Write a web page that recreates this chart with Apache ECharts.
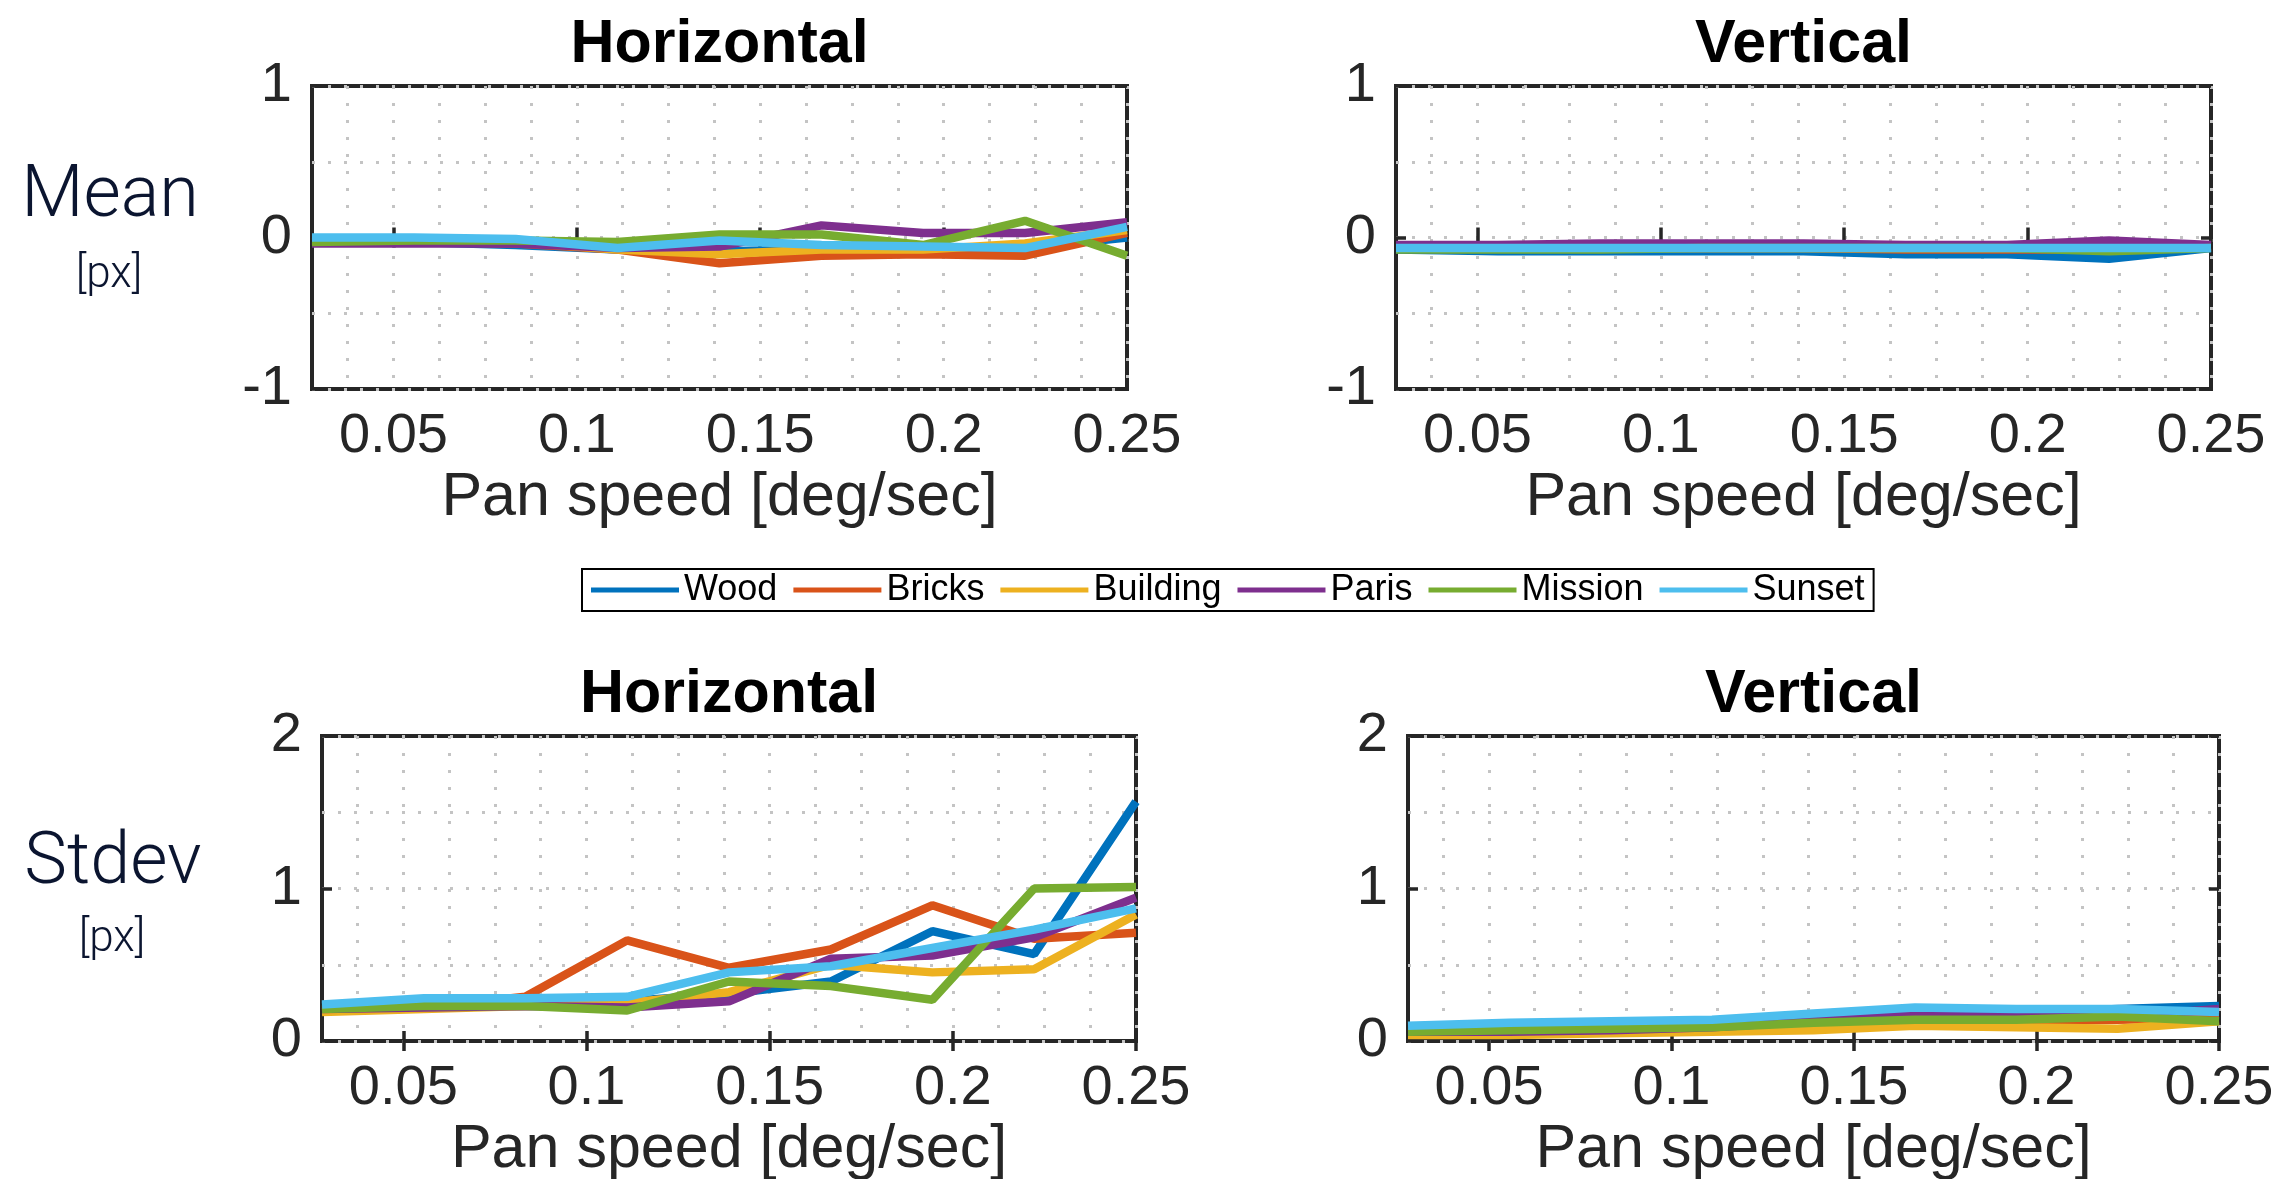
<!DOCTYPE html>
<html>
<head>
<meta charset="utf-8">
<title>Pan speed error</title>
<script src="https://cdn.jsdelivr.net/npm/echarts@6.0.0/dist/echarts.min.js"></script>
<style>
html, body { margin: 0; padding: 0; background: #fff; }
#chart { width: 2294px; height: 1179px; }
</style>
</head>
<body>
<div id="chart"></div>
<script>
// pan speeds [deg/sec] at which every scene was measured
var speeds = [0.0278, 0.0556, 0.0833, 0.1111, 0.1389, 0.1667, 0.1944, 0.2222, 0.25];
var names = ['Wood', 'Bricks', 'Building', 'Paris', 'Mission', 'Sunset'];
var colors = ['#0072BD', '#D95319', '#EDB120', '#7E2F8E', '#77AC30', '#4DBEEE'];

// one row per scene, same order as names
var meanHorizontal = [
    [-0.02, -0.03, -0.05, -0.08, -0.09, -0.08, -0.08, -0.07, 0.00],
    [-0.02, -0.03, -0.04, -0.08, -0.17, -0.12, -0.11, -0.12, 0.03],
    [-0.02, -0.02, -0.03, -0.08, -0.11, -0.08, -0.08, -0.04, 0.05],
    [-0.04, -0.04, -0.04, -0.07, -0.06, 0.08, 0.03, 0.03, 0.10],
    [-0.03, -0.02, -0.02, -0.03, 0.02, 0.02, -0.05, 0.11, -0.12],
    [0.00, 0.00, -0.01, -0.07, -0.02, -0.05, -0.06, -0.07, 0.07]
];
var meanVertical = [
    [-0.08, -0.09, -0.09, -0.09, -0.09, -0.11, -0.11, -0.14, -0.07],
    [-0.07, -0.07, -0.07, -0.07, -0.07, -0.08, -0.08, -0.08, -0.06],
    [-0.07, -0.07, -0.07, -0.07, -0.07, -0.07, -0.07, -0.07, -0.06],
    [-0.05, -0.05, -0.04, -0.04, -0.04, -0.05, -0.05, -0.02, -0.05],
    [-0.08, -0.08, -0.08, -0.07, -0.07, -0.07, -0.07, -0.09, -0.07],
    [-0.07, -0.07, -0.07, -0.07, -0.07, -0.07, -0.07, -0.07, -0.07]
];
var stdevHorizontal = [
    [0.23, 0.27, 0.27, 0.26, 0.31, 0.39, 0.72, 0.57, 1.57],
    [0.20, 0.22, 0.29, 0.66, 0.48, 0.60, 0.89, 0.67, 0.71],
    [0.19, 0.21, 0.23, 0.25, 0.32, 0.50, 0.45, 0.47, 0.83],
    [0.21, 0.22, 0.23, 0.22, 0.26, 0.54, 0.56, 0.68, 0.94],
    [0.21, 0.23, 0.23, 0.20, 0.39, 0.36, 0.27, 1.00, 1.01],
    [0.24, 0.28, 0.28, 0.29, 0.45, 0.49, 0.61, 0.73, 0.87]
];
var stdevVertical = [
    [0.08, 0.09, 0.10, 0.11, 0.14, 0.17, 0.18, 0.21, 0.23],
    [0.05, 0.06, 0.07, 0.08, 0.10, 0.12, 0.13, 0.14, 0.15],
    [0.04, 0.04, 0.05, 0.06, 0.07, 0.10, 0.09, 0.08, 0.13],
    [0.06, 0.06, 0.07, 0.09, 0.13, 0.17, 0.17, 0.16, 0.21],
    [0.06, 0.07, 0.08, 0.09, 0.12, 0.14, 0.14, 0.16, 0.13],
    [0.10, 0.12, 0.13, 0.14, 0.18, 0.22, 0.21, 0.21, 0.19]
];

// tick marks / labels and the dotted grid columns on x
var xTicks = [0.05, 0.1, 0.15, 0.2, 0.25];
var xGrid = [0.0375, 0.05, 0.0625, 0.075, 0.0875, 0.1, 0.1125, 0.125, 0.1375,
             0.15, 0.1625, 0.175, 0.1875, 0.2, 0.2125, 0.225, 0.2375, 0.25];

var FONT = "'Liberation Sans', Arial, Helvetica, sans-serif";
var INK = '#262626';

var panels = [
    {title: 'Horizontal', rows: meanHorizontal, left: 312, top: 86, width: 815, height: 303, min: -1, max: 1},
    {title: 'Vertical', rows: meanVertical, left: 1396, top: 86, width: 815, height: 303, min: -1, max: 1},
    {title: 'Horizontal', rows: stdevHorizontal, left: 322, top: 736, width: 814, height: 305, min: 0, max: 2},
    {title: 'Vertical', rows: stdevVertical, left: 1408, top: 736, width: 811, height: 305, min: 0, max: 2}
];

var grids = [], xAxes = [], yAxes = [], series = [], titles = [];
var tickStyle = {inside: true, length: 10, lineStyle: {color: INK, width: 3.5}};

panels.forEach(function (p, i) {
    grids.push({
        left: p.left, top: p.top, width: p.width, height: p.height,
        show: true, borderColor: INK, borderWidth: 4, backgroundColor: '#fff',
        outerBoundsMode: 'none'
    });

    // bottom axis: ticks, labels, name
    xAxes.push({
        type: 'value', gridIndex: i, min: 0.0278, max: 0.25, position: 'bottom',
        axisLine: {show: false},
        axisTick: Object.assign({customValues: xTicks}, tickStyle),
        axisLabel: {customValues: xTicks, fontSize: 56, color: INK, fontFamily: FONT, margin: 20},
        splitLine: {show: false},
        name: 'Pan speed [deg/sec]', nameLocation: 'middle', nameGap: 79,
        nameTextStyle: {fontSize: 61, color: INK, fontFamily: FONT}
    });
    // top mirror ticks
    xAxes.push({
        type: 'value', gridIndex: i, min: 0.0278, max: 0.25, position: 'top',
        axisLine: {show: false},
        axisTick: Object.assign({customValues: xTicks}, tickStyle),
        axisLabel: {show: false},
        splitLine: {show: false}
    });
    // dotted grid columns
    xAxes.push({
        type: 'value', gridIndex: i, min: 0.0278, max: 0.25, position: 'bottom',
        axisLine: {show: false},
        axisTick: {show: false, customValues: xGrid},
        axisLabel: {show: false},
        splitLine: {show: true, lineStyle: {color: '#c4c4c4', width: 3, type: [3, 14]}}
    });

    yAxes.push({
        type: 'value', gridIndex: i, min: p.min, max: p.max, interval: 1, position: 'left',
        axisLine: {show: false},
        axisTick: tickStyle,
        axisLabel: {fontSize: 56, color: INK, fontFamily: FONT, margin: 20},
        splitLine: {show: false}
    });
    yAxes.push({
        type: 'value', gridIndex: i, min: p.min, max: p.max, interval: 1, position: 'right',
        axisLine: {show: false},
        axisTick: tickStyle,
        axisLabel: {show: false},
        splitLine: {show: false}
    });
    yAxes.push({
        type: 'value', gridIndex: i, min: p.min, max: p.max, interval: 0.5, position: 'left',
        axisLine: {show: false},
        axisTick: {show: false},
        axisLabel: {show: false},
        splitLine: {show: true, lineStyle: {color: '#c4c4c4', width: 3, type: [3, 13]}}
    });

    p.rows.forEach(function (vals, k) {
        series.push({
            type: 'line', name: names[k],
            xAxisIndex: i * 3, yAxisIndex: i * 3,
            data: speeds.map(function (s, j) { return [s, vals[j]]; }),
            showSymbol: false, symbol: 'none',
            lineStyle: {width: 8.5, color: colors[k]},
            itemStyle: {color: colors[k]},
            z: 3
        });
    });

    titles.push({
        text: p.title, left: p.left + p.width / 2, top: p.top - 71, textAlign: 'center', padding: 0,
        textStyle: {fontSize: 61, fontWeight: 'bold', color: '#000', fontFamily: FONT}
    });
});

// row labels on the left
var rowLabel = function (text, x, y, size) {
    return {
        text: text, left: x, top: y, textAlign: 'center', padding: 0,
        textStyle: {fontSize: size, fontWeight: 300, color: '#0b1530', fontFamily: "Roboto, 'Liberation Sans', sans-serif"}
    };
};
titles.push(rowLabel('Mean', 110, 162, 72));
titles.push(rowLabel('[px]', 109, 254, 44));
titles.push(rowLabel('Stdev', 113, 829, 72));
titles.push(rowLabel('[px]', 112, 918, 44));

var option = {
    animation: false,
    backgroundColor: '#fff',
    title: titles,
    legend: {
        data: names, left: 582, top: 569, orient: 'horizontal',
        icon: 'rect', itemWidth: 88, itemHeight: 5, itemGap: 16,
        padding: [3, 9], borderColor: '#000', borderWidth: 2, backgroundColor: '#fff',
        textStyle: {fontSize: 36, color: '#000', fontFamily: FONT}
    },
    grid: grids,
    xAxis: xAxes,
    yAxis: yAxes,
    series: series
};

var chart = echarts.init(document.getElementById('chart'));
chart.setOption(option);
</script>
</body>
</html>
